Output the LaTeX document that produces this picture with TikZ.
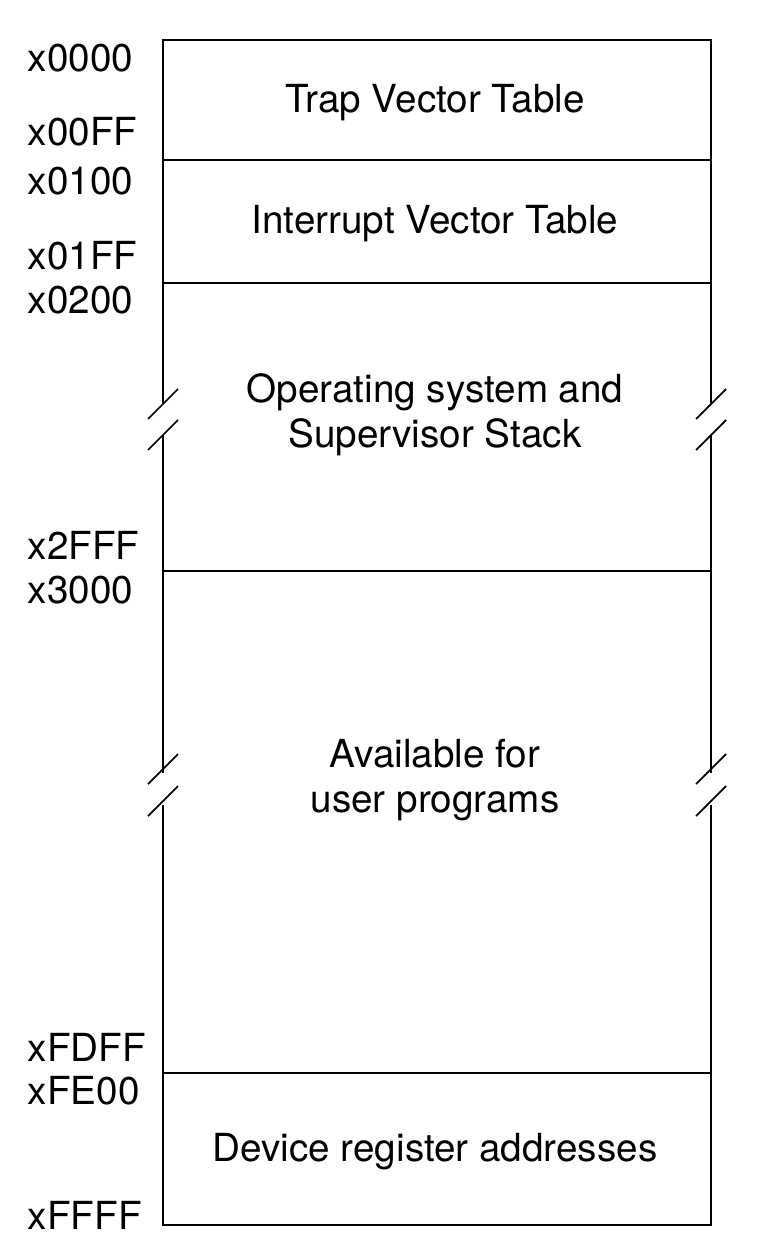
\documentclass[tikz,border=0pt]{standalone}
\usepackage{fontspec}
\setmainfont{TeX Gyre Heros}
\begin{document}
\begin{tikzpicture}[x=0.02cm,y=-0.02cm,line width=1pt,
    addr/.style={anchor=west,inner sep=0pt,font=\fontsize{22}{26}\selectfont},
    region/.style={align=center,inner sep=0pt,font=\fontsize{22}{25.6}\selectfont}]
      \useasboundingbox (0,0) rectangle (778,1256);
      % outer frame, broken twice on each side
      \draw (163,403) -- (163,40) -- (711,40) -- (711,403);
      \draw (163,435) -- (163,773);
      \draw (711,435) -- (711,773);
      \draw (163,805) -- (163,1225) -- (711,1225) -- (711,805);
      \foreach \yy in {389,420,754,786} {
        \draw (148,\yy+30) -- (178,\yy);
        \draw (696,\yy+30) -- (726,\yy);
      }
      % region borders
      \draw (163,160) -- (711,160);
      \draw (163,283) -- (711,283);
      \draw (163,571) -- (711,571);
      \draw (163,1073) -- (711,1073);

      \node[region] (trap) at (435,103) {Trap Vector Table};
      \node[region] (intr) at (435,224) {Interrupt Vector Table};
      \node[region] (os) at (435,415) {Operating system and\\Supervisor Stack};
      \node[region] (user) at (435,780) {Available for\\user programs};
      \node[region] (dev) at (435,1152) {Device register addresses};

      \node[addr] (a0) at (27,58) {x0000};
      \node[addr] (a1) at (27,132) {x00FF};
      \node[addr] (a2) at (27,181) {x0100};
      \node[addr] (a3) at (27,256) {x01FF};
      \node[addr] (a4) at (27,300) {x0200};
      \node[addr] (a5) at (27,545) {x2FFF};
      \node[addr] (a6) at (27,590) {x3000};
      \node[addr] (a7) at (27,1047) {xFDFF};
      \node[addr] (a8) at (27,1091) {xFE00};
      \node[addr] (a9) at (27,1215) {xFFFF};
\end{tikzpicture}
\end{document}
